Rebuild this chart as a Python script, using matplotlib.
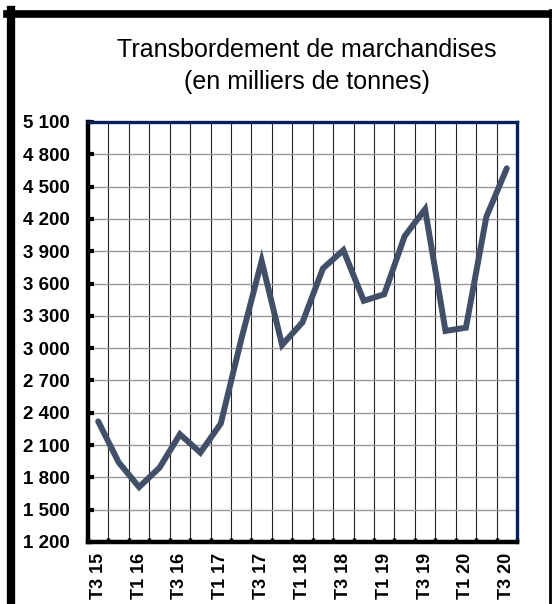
import numpy as np
import matplotlib.pyplot as plt
from matplotlib.lines import Line2D
from matplotlib.ticker import FixedLocator, FuncFormatter

plt.rcParams['font.family'] = ['Liberation Sans', 'DejaVu Sans']

# quarterly transhipment, thousands of tonnes (T3 2015 .. T3 2020)
quarters = ['T3 15', 'T4 15', 'T1 16', 'T2 16', 'T3 16', 'T4 16', 'T1 17', 'T2 17',
            'T3 17', 'T4 17', 'T1 18', 'T2 18', 'T3 18', 'T4 18', 'T1 19', 'T2 19',
            'T3 19', 'T4 19', 'T1 20', 'T2 20', 'T3 20']
tonnage = [2320, 1940, 1710, 1890, 2200, 2030, 2300, 3080, 3810, 3030, 3240,
           3740, 3910, 3440, 3500, 4040, 4290, 3160, 3190, 4220, 4670]
yticks = list(range(1200, 5101, 300))

navy = '#002060'
line_col = '#415068'

fig = plt.figure(figsize=(5.52, 6.04), dpi=100)
ax = fig.add_axes([88 / 552, 1 - 542 / 604, 429 / 552, 420 / 604])

x = np.arange(len(quarters))
ax.plot(x, tonnage, color=line_col, lw=4.3, solid_joinstyle='miter',
        solid_capstyle='round', zorder=5)

ax.set_xlim(-0.5, len(quarters) - 0.5)
ax.set_ylim(1200, 5100)

# category labels every second quarter, grid at category boundaries
ax.set_xticks(x[::2])
ax.set_xticklabels(quarters[::2], rotation=90, fontsize=13, fontweight='bold')
ax.xaxis.set_minor_locator(FixedLocator(np.arange(-0.5, len(quarters), 1)))
ax.tick_params(axis='x', which='major', length=0, pad=8)
ax.tick_params(axis='x', which='minor', length=3, width=2.5, direction='in', color='black')
ax.grid(axis='x', which='minor', color='#222222', lw=0.8)

ax.set_yticks(yticks)
ax.yaxis.set_major_formatter(FuncFormatter(lambda v, p: f'{int(v):,}'.replace(',', ' ')))
ax.tick_params(axis='y', length=4, width=3, direction='in', color='black', pad=13,
               labelsize=13.5)
for lbl in ax.get_yticklabels():
    lbl.set_fontweight('bold')
ax.grid(axis='y', which='major', color='#999999', lw=1.0)
ax.set_axisbelow(True)

for side in ['left', 'bottom']:
    ax.spines[side].set_color('black')
    ax.spines[side].set_linewidth(3.2)
for side in ['top', 'right']:
    ax.spines[side].set_color(navy)
    ax.spines[side].set_linewidth(2.4)

fig.text(307 / 552, 1 - 38 / 604, 'Transbordement de marchandises\n(en milliers de tonnes)',
         ha='center', va='top', fontsize=18, linespacing=1.4)

# outer frame of the chart box
fig.add_artist(Line2D([11 / 552, 11 / 552], [0, 1 - 10 / 604], color='black', lw=6,
                      transform=fig.transFigure))
fig.add_artist(Line2D([7 / 552, 551 / 552], [1 - 13.5 / 604, 1 - 13.5 / 604], color='black',
                      lw=5.5, transform=fig.transFigure))
fig.add_artist(Line2D([549.5 / 552, 549.5 / 552], [0, 1 - 10 / 604], color='black', lw=2,
                      transform=fig.transFigure))

fig.savefig('out.png', dpi=100)
